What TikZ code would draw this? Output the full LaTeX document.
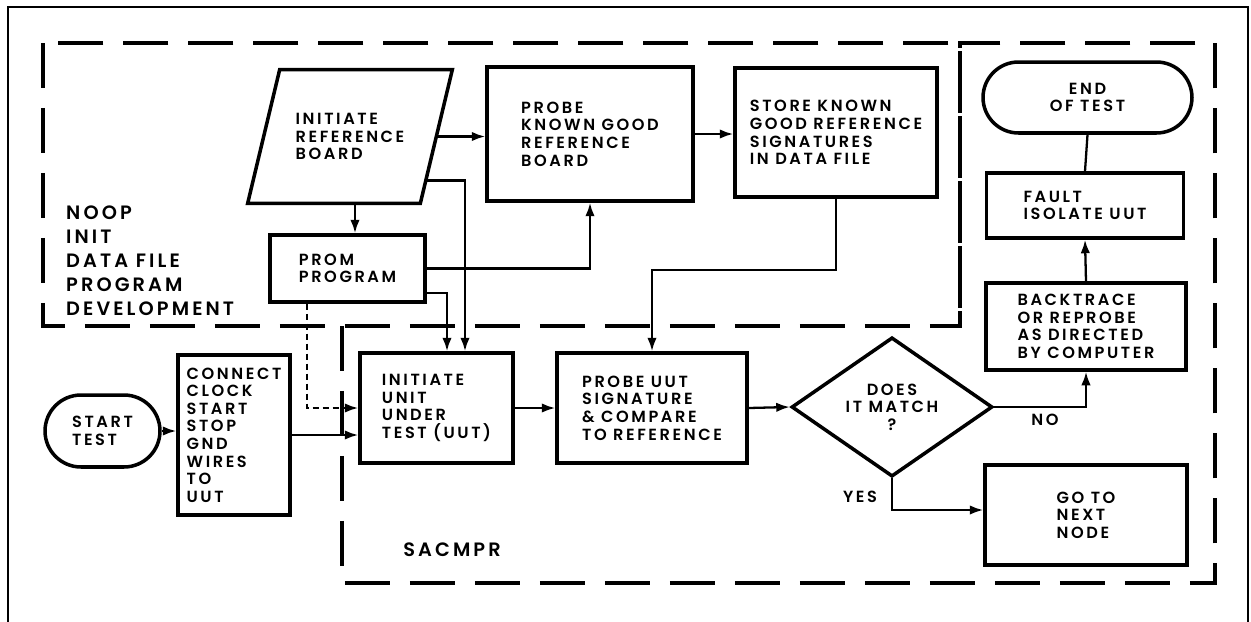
\documentclass[tikz,border=0pt]{standalone}
\usepackage{fontspec}
\setmainfont{Poppins}[UprightFont=* SemiBold, LetterSpace=16]
\usetikzlibrary{arrows.meta,shapes.geometric,shapes.misc,calc}

\begin{document}
\begin{tikzpicture}[x=0.02cm, y=-0.02cm,
    every node/.style={font=\fontsize{9.2}{10}\selectfont},
    box/.style={draw, line width=2pt, align=left, inner sep=0pt},
    term/.style={draw, rounded rectangle, line width=2pt, align=left, inner sep=0pt},
    arr/.style={line width=1.3pt, -{Latex[length=0.27cm,width=0.19cm]}},
    link/.style={line width=1.3pt},
    region/.style={line width=2.6pt, dash pattern=on 0.9cm off 0.4cm},
    bigtext/.style={font=\fontsize{11}{13.6}\selectfont, align=left}]
    \useasboundingbox (0,0) rectangle (1251,622);

    % Outer frame
    \draw[line width=1.3pt] (8,622) -- (8,7) -- (1248,7) -- (1248,622);

    % Dashed program areas
    \draw[region] (43,43) rectangle (960,326);
    \draw[region] (342,326) -- (342,583) -- (1215,583) -- (1215,43) -- (960,43) -- (960,326);
    \node[bigtext, anchor=west] (noop) at (60,261) {NOOP\\INIT\\DATA FILE\\PROGRAM\\DEVELOPMENT};
    \node[bigtext] (sacmpr) at (452,550) {SACMPR};

    % Reference board steps
    \node[align=left, inner sep=0pt, minimum width=3.44cm, minimum height=2.66cm] (initref) at (350,136.5) {INITIATE\\REFERENCE\\BOARD};
    \coordinate (irbl) at ([xshift=-0.32cm]initref.south west);
    \coordinate (irbr) at ([xshift=-0.32cm]initref.south east);
    \coordinate (irtr) at ([xshift=0.32cm]initref.north east);
    \coordinate (irtl) at ([xshift=0.32cm]initref.north west);
    \draw[line width=2pt, line join=miter] (irbl) -- (irbr) -- (irtr) -- (irtl) -- cycle;
    \node[box, minimum width=3.1cm, minimum height=1.34cm] (prom) at (347.5,268.5) {PROM\\PROGRAM};
    \node[box, minimum width=4.12cm, minimum height=2.68cm] (probekg) at (590,134) {PROBE\\KNOWN GOOD\\REFERENCE\\BOARD};
    \node[box, minimum width=4.04cm, minimum height=2.58cm] (store) at (836,132.5) {STORE KNOWN\\GOOD REFERENCE\\SIGNATURES\\IN DATA FILE};

    % Fault column
    \node[term, align=center, minimum width=4.18cm, minimum height=1.42cm] (endt) at (1087.5,97.5) {END\\OF TEST};
    \node[box, minimum width=3.94cm, minimum height=1.3cm] (fault) at (1085,205.5) {FAULT\\ISOLATE UUT};
    \node[box, minimum width=4.0cm, minimum height=1.74cm] (back) at (1086,326.5) {BACKTRACE\\OR REPROBE\\AS DIRECTED\\BY COMPUTER};

    % Test row
    \node[term, minimum width=2.3cm, minimum height=1.44cm] (start) at (102.5,431) {START\\TEST};
    \node[box, minimum width=2.24cm, minimum height=3.2cm] (connect) at (234,435) {CONNECT\\CLOCK\\START\\STOP\\GND\\WIRES\\TO\\UUT};
    \node[box, minimum width=3.06cm, minimum height=2.2cm] (uut) at (436.5,408) {INITIATE\\UNIT\\UNDER\\TEST (UUT)};
    \node[box, minimum width=3.8cm, minimum height=2.2cm] (probeuut) at (652,408) {PROBE UUT\\SIGNATURE\\\& COMPARE\\TO REFERENCE};
    \node[draw, diamond, line width=2pt, align=center, inner sep=0pt, minimum width=4.02cm, minimum height=2.64cm] (match) at (892,407) {DOES\\IT MATCH\\?};
    \node[box, minimum width=4.04cm, minimum height=2.0cm] (next) at (1086,515) {GO TO\\NEXT\\NODE};
    \node (no) at (1045,420) {NO};
    \node (yes) at (860,497) {YES};

    % Connectors
    \draw[arr] (initref.east) -- (initref.east -| probekg.west);
    \draw[arr] (probekg.east) -- (probekg.east -| store.west);
    \draw[arr] ([xshift=0.15cm]prom.north |- irbl) -- ([xshift=0.15cm]prom.north);
    \draw[arr] ($(irbr)!0.17!(irtr)$) -| ([xshift=0.57cm]uut.north);
    \draw[arr] (prom.east) -| (probekg.south);
    \draw[arr] ([yshift=0.22cm]prom.south east) -| ([xshift=0.21cm]uut.north);
    \draw[arr, dash pattern=on 0.12cm off 0.08cm] ([xshift=-0.81cm]prom.south) |- (uut.west);
    \draw[arr] (store.south) -- ++(0,71) -| (probeuut.north);
    \draw[arr] (start.east) -- (start.east -| connect.west);
    \draw[arr] (connect.east) -- (connect.east -| uut.west);
    \draw[arr] (uut.east) -- (uut.east -| probeuut.west);
    \draw[arr] (probeuut.east) -- (match.west);
    \draw[arr] (match.east) -| (back.south);
    \draw[arr] (match.south) |- ([yshift=0.1cm]next.west);
    \draw[arr] (back.north) -- (fault.south);
    \draw[link] (fault.north) -- (endt.south);
\end{tikzpicture}
\end{document}
